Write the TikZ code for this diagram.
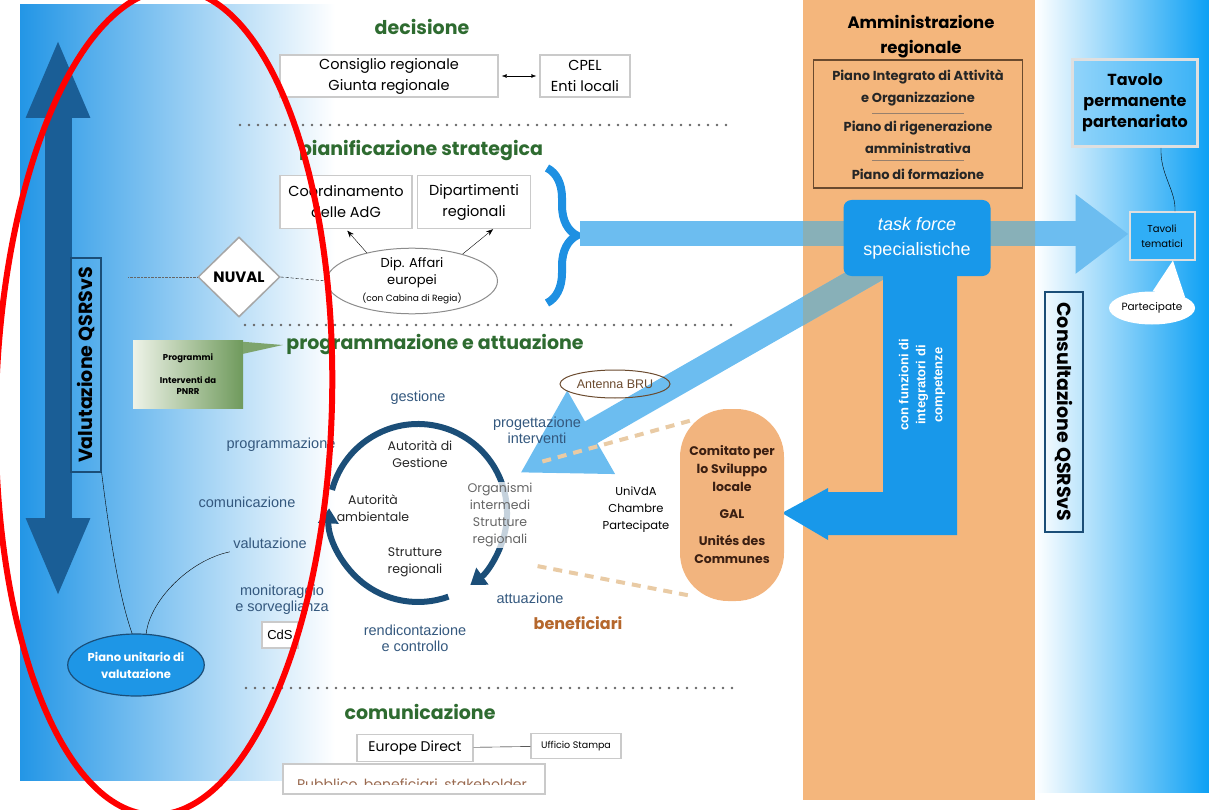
\documentclass[tikz,border=0pt]{standalone}
\usepackage{fontspec}
\setmainfont{Poppins}
\newfontfamily\arialfont{Liberation Sans}
\usetikzlibrary{shapes.geometric,arrows.meta,decorations.pathreplacing,calc}

\definecolor{headgreen}{HTML}{2E6B30}
\definecolor{boxgray}{HTML}{CACACA}
\definecolor{cyclab}{HTML}{34587E}
\definecolor{cycblue}{HTML}{1B4E78}
\definecolor{orangecol}{HTML}{F4B67C}
\definecolor{pillorange}{HTML}{F2B47E}
\definecolor{brownline}{HTML}{6A4A2E}
\definecolor{braceblue}{HTML}{1E90E2}
\definecolor{tfblue}{HTML}{1898EA}
\definecolor{bandblue}{HTML}{6CBDF0}
\definecolor{bandorange}{HTML}{88B0B8}
\definecolor{panelblue}{HTML}{2396E6}
\definecolor{rightblue}{HTML}{0CA0F4}
\definecolor{darkarrow}{HTML}{1A5E96}
\definecolor{puvblue}{HTML}{1E96E6}
\definecolor{benefbrown}{HTML}{B5672C}
\definecolor{comtext}{HTML}{3B1F12}
\definecolor{pnrrlight}{HTML}{EEF3E8}
\definecolor{pnrrgreen}{HTML}{6F9A5C}
\definecolor{dashcol}{HTML}{E9CBA5}
\definecolor{pubbrown}{HTML}{9A6A50}

\begin{document}
\begin{tikzpicture}[x=1pt,y=-1pt,
  heading/.style={font=\bfseries\fontsize{19}{21}\selectfont, text=headgreen},
  graybox/.style={draw=boxgray, line width=1.4pt, fill=white, align=center, inner sep=2pt,
    font=\fontsize{14.5}{21}\selectfont},
  cyclabel/.style={font=\arialfont\fontsize{14.5}{16}\selectfont, text=cyclab, align=center},
  incycle/.style={font=\fontsize{12.5}{17}\selectfont, align=center, text=black!85},
  planitem/.style={font=\bfseries\fontsize{13}{22}\selectfont, align=center, text=black!85},
  sepline/.style={line width=2.8pt, draw=black!60, dash pattern=on 0pt off 9pt, line cap=round},
  band/.style={line width=25pt, draw=bandblue},
  dashorange/.style={line width=4pt, draw=dashcol, dash pattern=on 9pt off 7pt},
  qsbox/.style={draw=cycblue, line width=1.3pt, font=\bfseries\fontsize{19}{21}\selectfont, inner sep=0pt}]

  \useasboundingbox (0,0) rectangle (1209,810);

  % background columns
  \shade[left color=panelblue, middle color=panelblue!55, right color=white] (20,5) rectangle (335,780);
  \fill[orangecol] (803,0) rectangle (1035,800);
  \shade[left color=white, right color=rightblue] (1035,0) rectangle (1209,792);

  % valutazione (left)
  \coordinate (vtop) at (58,38);
  \coordinate (vbot) at (58,598);
  \draw[darkarrow, line width=27pt, {Triangle[length=80pt,width=58pt]}-{Triangle[length=80pt,width=58pt]}] (vtop) -- (vbot);
  \node[qsbox, rotate=90, minimum width=214, minimum height=30] (valqs) at (86,365) {Valutazione QSRSvS};
  \node[ellipse, fill=puvblue, draw=cycblue, line width=1.2pt, minimum width=122, minimum height=62, inner sep=0pt,
    text=white, align=center, font=\bfseries\fontsize{11.5}{17}\selectfont] (puv) at (136,665) {Piano unitario di\\valutazione};

  % consultazione (right)
  \node[draw=boxgray!60, line width=3pt, left color=rightblue!45, right color=rightblue!80, minimum width=125, minimum height=87,
    align=center, font=\bfseries\fontsize{16}{21}\selectfont] (tavperm) at (1135,103) {Tavolo\\permanente\\partenariato};
  \node[draw=boxgray!60, line width=2pt, fill=rightblue!85, minimum width=65, minimum height=47, inner sep=0pt,
    align=center, font=\fontsize{10}{15}\selectfont] (tavtem) at (1162,236) {Tavoli\\tematici};
  \draw (tavperm.-60) .. controls (1160,175) and (1176,190) .. (tavtem.62);
  \node[ellipse, fill=white, minimum width=85, minimum height=33, inner sep=0pt,
    font=\fontsize{10.5}{12}\selectfont] (partec) at (1152,308) {Partecipate};
  \fill[white] (partec.88) -- (tavtem.-66) -- (partec.18) -- cycle;
  \node[qsbox, rotate=-90, minimum width=240, minimum height=38] (consqs) at (1064,412) {Consultazione QSRSvS};

  % amministrazione regionale
  \node[font=\bfseries\fontsize{16.5}{25}\selectfont, align=center] (ammtit) at (921,37) {Amministrazione\\regionale};
  \node[draw=brownline, line width=1.8pt, minimum width=209, minimum height=128] (ammbox) at (918,124) {};
  \node[planitem] (piao) at (918,88) {Piano Integrato di Attività\\e Organizzazione};
  \node[planitem] (piarig) at (918,137) {Piano di rigenerazione\\amministrativa};
  \node[planitem] (piaform) at (918,174) {Piano di formazione};
  \draw[brownline!70] ($(piao)+(-46,25)$) -- ($(piao)+(46,25)$);
  \draw[brownline!70] ($(piarig)+(-46,23)$) -- ($(piarig)+(46,23)$);

  % decisione
  \node[heading] (hdec) at (422,27) {decisione};
  \node[graybox, minimum width=218, minimum height=42] (consiglio) at (389,76) {Consiglio regionale\\Giunta regionale};
  \node[graybox, minimum width=90, minimum height=42] (cpel) at (585,76) {CPEL\\Enti locali};
  \draw[{Latex[length=5pt]}-{Latex[length=5pt]}, shorten <=3pt, shorten >=3pt] (consiglio) -- (cpel);
  \draw[sepline] (240,125) -- (730,125);

  % pianificazione strategica
  \node[heading] (hpian) at (421,151) {pianificazione strategica};
  \node[graybox, minimum width=132, minimum height=53] (coord) at (346,202) {Coordinamento\\delle AdG};
  \node[graybox, minimum width=113, minimum height=53] (dipreg) at (474,202) {Dipartimenti\\regionali};
  \node[ellipse, draw=black!45, line width=1pt, fill=white, minimum width=171, minimum height=62, inner sep=0pt,
    align=center, font=\fontsize{13}{17}\selectfont] (dipaff) at (412,281)
    {Dip. Affari\\europei\\{\fontsize{9}{10}\selectfont(con Cabina di Regia)}};
  \draw[-{Stealth[length=7pt]}, shorten >=2pt] (dipaff.148) -- (coord.south);
  \draw[-{Stealth[length=7pt]}] (dipaff.28) -- (dipreg.-55);
  \node[diamond, draw=black!35, line width=1.5pt, fill=white, minimum width=82, minimum height=80, inner sep=0pt,
    font=\bfseries\fontsize{15}{17}\selectfont] (nuval) at (239,277) {NUVAL};
  \coordinate (nuvleft) at (128,277);
  \draw[densely dotted, black!60] (nuval.west) -- (nuvleft);
  \draw[densely dashed] (nuval.east) -- (dipaff.west);
  \draw[braceblue, line width=8pt, decorate, decoration={brace, amplitude=30pt}] (547,168) -- (547,303);
  \coordinate (bracetip) at (580,234);
  \draw[sepline] (245,325) -- (737,325);

  % programmazione e attuazione
  \node[heading] (hprog) at (435,345) {programmazione e attuazione};
  \node[left color=pnrrlight, right color=pnrrgreen, minimum width=110, minimum height=68, inner sep=1pt,
    font=\bfseries\fontsize{8.5}{11}\selectfont, align=center] (progbox) at (188,374) {Programmi\\[12pt]Interventi da\\PNRR};
  \fill[pnrrgreen!90] ([yshift=-2pt]progbox.north east) -- (hprog.west) -- ([yshift=-14pt]progbox.north east) -- cycle;

  % task force and bands
  \coordinate (cyctip) at (520,473);
  \coordinate (bandstart) at (880,267);
  \draw[band, -{Triangle[length=53pt,width=76pt]}] (bracetip) -- (bracetip -| tavtem.west);
  \draw[band, -{Triangle[length=82pt,width=90pt]}] (bandstart) -- (cyctip);
  \begin{scope}
    \clip (803,0) rectangle (1035,800);
    \draw[band, draw=bandorange] (bracetip) -- (bracetip -| tavtem.west);
    \draw[band, draw=bandorange] (bandstart) -- (cyctip);
  \end{scope}
  \fill[tfblue] (883,270) -- (957,270) -- (957,535) -- (828,535) -- (828,540) -- (782,513)
    -- (828,488) -- (828,492) -- (883,492) -- cycle;
  \node[rounded corners=8pt, fill=tfblue, text=white, minimum width=147, minimum height=76, align=center,
    font=\arialfont\fontsize{18}{25}\selectfont] (tf) at (917,238) {\textit{task force}\\specialistiche};
  \node[rotate=90, text=white, align=center, font=\arialfont\bfseries\fontsize{13}{17}\selectfont] (tftxt) at (922,385)
    {con funzioni di\\integratori di\\competenze};

  % cycle
  \coordinate (cycc) at (418,513);
  \draw[cycblue, line width=6pt, -{Triangle[length=15pt,width=20pt]}] ([shift={(195:89)}]cycc)
    arc[start angle=195, end angle=414, radius=89];
  \draw[cycblue, line width=6pt, -{Triangle[length=15pt,width=20pt]}] ([shift={(70:89)}]cycc)
    arc[start angle=70, end angle=183, radius=89];
  \node[cyclabel] (gest) at (418,398) {gestione};
  \node[cyclabel] (proget) at (537,430) {progettazione\\interventi};
  \node[cyclabel] (prgm) at (281,445) {programmazione};
  \node[cyclabel] (comu) at (247,502) {comunicazione};
  \node[cyclabel] (valu) at (270,543) {valutazione};
  \node[cyclabel] (monit) at (282,600) {monitoraggio\\e sorveglianza};
  \node[graybox, font=\arialfont\fontsize{13}{15}\selectfont, minimum width=36, minimum height=26] (cds) at (280,635) {CdS};
  \node[cyclabel] (rendic) at (415,638) {rendicontazione\\e controllo};
  \node[cyclabel] (attua) at (530,598) {attuazione};
  \node[incycle] (autges) at (420,454) {Autorità di\\Gestione};
  \node[incycle] (autamb) at (373,508) {Autorità\\ambientale};
  \node[incycle] (strreg) at (415,562) {Strutture\\regionali};
  \node[incycle, text=black!60, fill=white, fill opacity=0.75, text opacity=1, inner sep=1pt] (orgint) at (500,515)
    {Organismi\\intermedi\\Strutture\\regionali};
  \draw (valqs.south west) .. controls (110,540) and (120,600) .. (puv.97);
  \draw (valu.south west) .. controls (190,560) and (150,600) .. (puv.72);

  % beneficiari
  \node[ellipse, draw=brownline, line width=1pt, minimum width=110, minimum height=28, inner sep=0pt,
    font=\arialfont\fontsize{12.5}{14}\selectfont, text=brownline] (antenna) at (615,384) {Antenna BRU};
  \node[font=\fontsize{11.5}{17}\selectfont, align=center] (univda) at (636,510) {UniVdA\\Chambre\\Partecipate};
  \node[fill=pillorange, rounded corners=48pt, minimum width=104, minimum height=192, text=comtext, align=center,
    font=\bfseries\fontsize{12.5}{18}\selectfont] (comitato) at (732,505)
    {Comitato per\\lo Sviluppo\\locale\\[9pt]GAL\\[9pt]Unités des\\Communes};
  \coordinate (dashup) at (537,463);
  \coordinate (dashlow) at (537,566);
  \draw[dashorange] ([shift={(10,12)}]comitato.north west) -- (dashup);
  \draw[dashorange] ([shift={(8,-6)}]comitato.south west) -- (dashlow);
  \node[font=\bfseries\fontsize{16}{18}\selectfont, text=benefbrown] (benef) at (578,623) {beneficiari};

  % comunicazione
  \draw[sepline] (246,688) -- (737,688);
  \node[heading] (hcom) at (420,712) {comunicazione};
  \node[graybox, font=\fontsize{14}{16}\selectfont, minimum width=116, minimum height=27] (eudir) at (415,748) {Europe Direct};
  \node[graybox, font=\fontsize{9.5}{11}\selectfont, minimum width=90, minimum height=25] (ufst) at (576,746) {Ufficio Stampa};
  \draw (eudir) -- (ufst);
  \node[graybox, minimum width=262, minimum height=30] (pubbl) at (414,779) {};
  \begin{scope}
    \clip (280,764) rectangle (560,784);
    \node[text=pubbrown, font=\fontsize{14}{16}\selectfont] (pubtxt) at (412,785) {Pubblico, beneficiari, stakeholder};
  \end{scope}

  % red ring
  \draw[red, line width=6pt, rotate around={-1.5:(164,402)}] (164,402) ellipse [x radius=168, y radius=413];
\end{tikzpicture}
\end{document}
